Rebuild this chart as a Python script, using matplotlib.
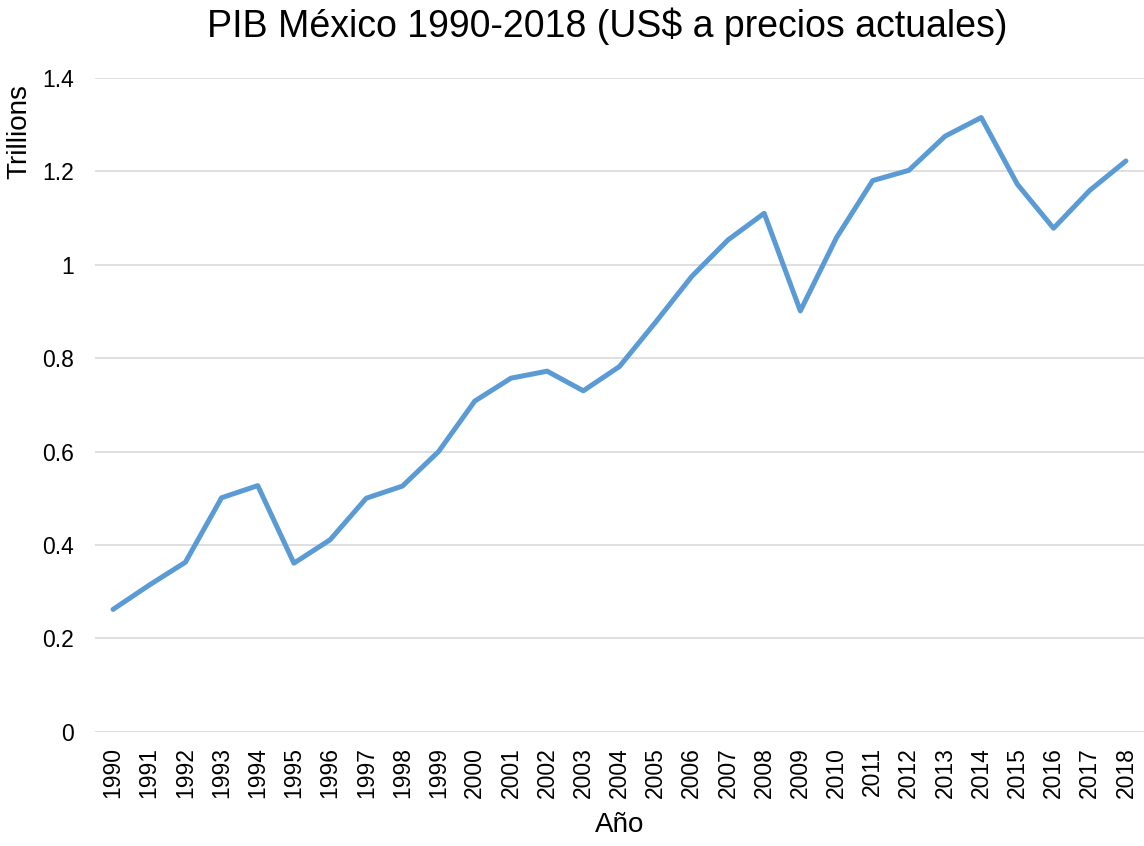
import matplotlib
matplotlib.use('Agg')
import matplotlib.pyplot as plt

# PIB de México en billones (trillions) de US$
anios = [str(a) for a in range(1990, 2019)]
pib = [0.262, 0.314, 0.363, 0.501, 0.527, 0.361, 0.411, 0.500, 0.526, 0.600,
       0.708, 0.757, 0.772, 0.730, 0.782, 0.877, 0.975, 1.053, 1.110, 0.901,
       1.058, 1.180, 1.202, 1.275, 1.315, 1.172, 1.078, 1.159, 1.222]
yticks = [0, 0.2, 0.4, 0.6, 0.8, 1, 1.2, 1.4]
ytick_labels = ['0', '0.2', '0.4', '0.6', '0.8', '1', '1.2', '1.4']

plt.rcParams['font.family'] = ['Liberation Sans', 'DejaVu Sans']

fig = plt.figure(figsize=(11.44, 8.46), dpi=100)
ax = fig.add_axes([0.083, 0.135, 0.917, 0.773])

x = range(len(anios))
ax.plot(x, pib, color='#5B9BD5', linewidth=3.6, solid_capstyle='round', solid_joinstyle='round')

ax.set_xlim(-0.5, len(anios) - 0.5)
ax.set_ylim(0, 1.4)
ax.set_xticks(list(x))
ax.set_xticklabels(anios, rotation=90, fontsize=16.5)
ax.set_yticks(yticks)
ax.set_yticklabels(ytick_labels, fontsize=16.5)
ax.yaxis.grid(True, color='#D9D9D9', linewidth=1.2)
ax.set_axisbelow(True)
for s in ax.spines.values():
    s.set_visible(False)
ax.tick_params(axis='y', length=0, pad=15)
ax.tick_params(axis='x', length=0, pad=11)

##ejes
ax.set_xlabel('Año', fontsize=20, va='baseline')
ax.xaxis.set_label_coords(0.5, -0.154)
ax.set_ylabel('Trillions', fontsize=20, va='center')
ax.yaxis.set_label_coords(-0.0725, 0.918)

##titulo
fig.text(607 / 1144, 1 - 37 / 846, 'PIB México 1990-2018 (US$ a precios actuales)',
         fontsize=27, ha='center', va='baseline')

plt.savefig('out.png', dpi=100)
